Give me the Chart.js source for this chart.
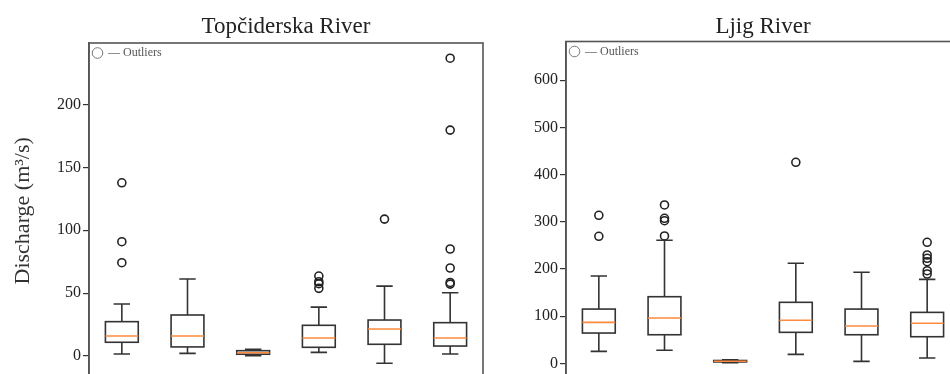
<!DOCTYPE html>
<html lang="en">
<head>
<meta charset="UTF-8">
<title>Discharge</title>
<style>
  html, body { margin: 0; padding: 0; background: #fff; width: 950px; height: 374px; overflow: hidden; }
  canvas { position: absolute; top: 0; }
</style>
</head>
<body>
  <canvas id="topciderska" width="490" height="400" style="left:0px"></canvas>
  <canvas id="ljig" width="470" height="400" style="left:500px"></canvas>
<script src="https://cdn.jsdelivr.net/npm/chart.js"></script>
<script>
var posicoes = [1, 2, 3, 4, 5, 6];

// Topciderska River
var top_min     = [1.6, 2.1, 0.2, 2.9, -5.8, 1.6];
var top_q1      = [10.9, 7.2, 1.4, 6.9, 9.3, 7.9];
var top_mediana = [15.9, 15.9, 2.6, 14.3, 21.5, 14.3];
var top_q3      = [27.3, 32.6, 4.2, 24.4, 28.6, 26.5];
var top_max     = [41.3, 61.2, 5.3, 38.9, 55.6, 50.3];
var top_outliers = [[137.8, 90.9, 74.2], [], [], [63.6, 59.1, 57.5, 53.8], [108.9], [236.9, 179.7, 85.1, 70, 58.5, 57.2]];
var top_ticks = [0, 50, 100, 150, 200];

// Ljig River
var ljig_min     = [25.4, 27.6, 1.5, 19, 4.2, 11.2];
var ljig_q1      = [64.2, 60.6, 3, 65.7, 60.6, 56.4];
var ljig_mediana = [86.9, 96, 4.5, 91.2, 79, 84.8];
var ljig_q3      = [115, 141.2, 6, 129.3, 115, 108];
var ljig_max     = [185, 260.8, 7.5, 212, 192.9, 178];
var ljig_outliers = [[313.7, 269.2], [335.6, 307.4, 302.3, 269.9], [], [426], [], [256.5, 229.6, 222.6, 215.4, 196.3, 189.3]];
var ljig_ticks = [0, 100, 200, 300, 400, 500, 600];

var fonte = "'Liberation Serif', 'DejaVu Serif', serif";

// desenha as caixas (whiskers, caixa, mediana) usando as escalas do grafico
var caixasPlugin = {
  id: 'caixas',
  afterDatasetsDraw(chart, args, opts) {
    var ctx = chart.ctx;
    var x = chart.scales.x, y = chart.scales.y;
    var a = chart.chartArea;
    ctx.save();
    ctx.beginPath();
    ctx.rect(a.left, a.top, a.right - a.left, a.bottom - a.top);
    ctx.clip();
    for (var i = 0; i < opts.mediana.length; i++) {
      var cx = x.getPixelForValue(posicoes[i]);
      var half = x.getPixelForValue(posicoes[i] + 0.25) - cx;
      var cap = half / 2;
      var yMin = y.getPixelForValue(opts.min[i]);
      var yQ1 = y.getPixelForValue(opts.q1[i]);
      var yMed = y.getPixelForValue(opts.mediana[i]);
      var yQ3 = y.getPixelForValue(opts.q3[i]);
      var yMax = y.getPixelForValue(opts.max[i]);
      ctx.strokeStyle = '#333';
      ctx.lineWidth = 1.6;
      ctx.beginPath();
      ctx.moveTo(cx, yQ1); ctx.lineTo(cx, yMin);
      ctx.moveTo(cx - cap, yMin); ctx.lineTo(cx + cap, yMin);
      ctx.moveTo(cx, yQ3); ctx.lineTo(cx, yMax);
      ctx.moveTo(cx - cap, yMax); ctx.lineTo(cx + cap, yMax);
      ctx.stroke();
      ctx.strokeRect(cx - half, yQ3, half * 2, yQ1 - yQ3);
      ctx.strokeStyle = '#ff8a3d';
      ctx.lineWidth = 1.6;
      ctx.beginPath();
      ctx.moveTo(cx - half, yMed); ctx.lineTo(cx + half, yMed);
      ctx.stroke();
    }
    ctx.restore();
  },
  afterDraw(chart) {
    var a = chart.chartArea;
    var ctx = chart.ctx;
    ctx.save();
    // moldura do grafico
    ctx.strokeStyle = '#555';
    ctx.lineWidth = 1.6;
    ctx.strokeRect(a.left, a.top, a.right - a.left, a.bottom - a.top);
    // legenda dentro da area
    ctx.strokeStyle = '#777';
    ctx.lineWidth = 1;
    ctx.beginPath();
    ctx.arc(a.left + 8.5, a.top + 10, 5.3, 0, Math.PI * 2);
    ctx.stroke();
    ctx.fillStyle = '#555';
    ctx.font = '12px ' + fonte;
    ctx.textBaseline = 'middle';
    ctx.textAlign = 'left';
    ctx.fillText('— Outliers', a.left + 19, a.top + 10);
    ctx.restore();
  }
};

function pontos(outliers) {
  var lista = [];
  for (var i = 0; i < outliers.length; i++) {
    for (var j = 0; j < outliers[i].length; j++) {
      lista.push({ x: posicoes[i], y: outliers[i][j] });
    }
  }
  return lista;
}

function criar_grafico(id, titulo, dados, ticks, ymin, ymax, larguraEixo, padding, mostrarTitulo, tituloPad) {
  new Chart(document.getElementById(id), {
    type: 'scatter',
    data: {
      datasets: [{
        label: 'Outliers',
        data: pontos(dados.outliers),
        pointStyle: 'circle',
        pointRadius: 4,
        pointHoverRadius: 4,
        borderWidth: 1.6,
        borderColor: '#222',
        backgroundColor: 'rgba(0,0,0,0)'
      }]
    },
    plugins: [caixasPlugin],
    options: {
      responsive: false,
      animation: false,
      layout: { padding: padding },
      scales: {
        x: { type: 'linear', min: 0.5, max: 6.5, display: false },
        y: {
          min: ymin,
          max: ymax,
          afterBuildTicks: function (scale) {
            scale.ticks = ticks.map(function (v) { return { value: v }; });
          },
          afterFit: function (scale) { scale.width = larguraEixo; },
          grid: { drawOnChartArea: false, tickLength: 6, color: '#333', lineWidth: 1.2 },
          border: { display: true, color: '#555', width: 1.6 },
          ticks: { color: '#222', padding: 2, font: { family: fonte, size: 16 } },
          title: {
            display: mostrarTitulo,
            text: 'Discharge (m³/s)',
            color: '#333',
            font: { family: fonte, size: 22 },
            padding: { top: 10, bottom: 0 }
          }
        }
      },
      plugins: {
        caixas: dados,
        tooltip: { enabled: false },
        legend: { display: false },
        title: {
          display: true,
          text: titulo,
          color: '#222',
          fullSize: false,
          font: { family: fonte, size: 23, weight: 'normal' },
          padding: tituloPad
        }
      }
    }
  });
}

criar_grafico('topciderska', 'Topčiderska River', {
  min: top_min, q1: top_q1, mediana: top_mediana, q3: top_q3, max: top_max, outliers: top_outliers
}, top_ticks, -18, 249, 89, { left: 0, right: 7, top: 0, bottom: 21.4 }, true, { top: 12.7, bottom: 2.7 });

criar_grafico('ljig', 'Ljig River', {
  min: ljig_min, q1: ljig_q1, mediana: ljig_mediana, q3: ljig_q3, max: ljig_max, outliers: ljig_outliers
}, ljig_ticks, -30, 682, 66, { left: 0, right: 10, top: 0, bottom: 22.5 }, false, { top: 12.7, bottom: 1.2 });
</script>
</body>
</html>
